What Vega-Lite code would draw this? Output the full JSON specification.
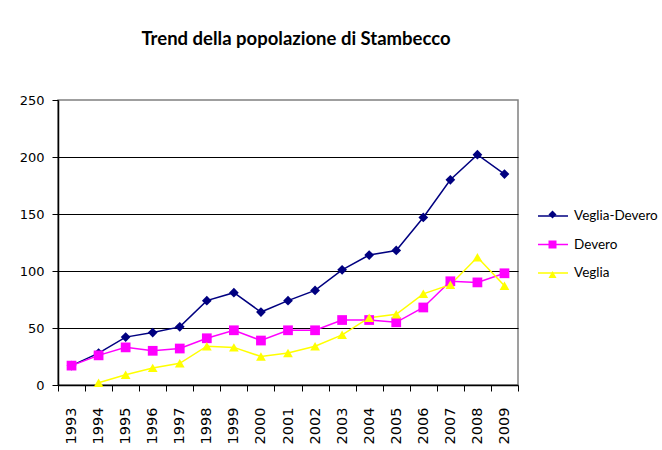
{
  "$schema": "https://vega.github.io/schema/vega-lite/v6.json",
  "autosize": "none",
  "width": 460,
  "height": 285,
  "padding": {"left": 58, "top": 100, "right": 144, "bottom": 65},
  "background": "white",
  "title": {
    "text": "Trend della popolazione di Stambecco",
    "font": "Lato",
    "fontSize": 18.5,
    "fontWeight": "bold",
    "color": "black",
    "anchor": "middle",
    "dx": 8,
    "offset": 31,
    "baseline": "alphabetic"
  },
  "config": {
    "view": {"stroke": "#808080", "strokeWidth": 1.5},
    "axis": {"labelColor": "black", "domainColor": "black", "tickColor": "black", "labelFont": "DejaVu Sans", "title": null}
  },
  "data": {
    "values": [
      {"year": "1993", "series": "Veglia-Devero", "value": 17},
      {"year": "1994", "series": "Veglia-Devero", "value": 28},
      {"year": "1995", "series": "Veglia-Devero", "value": 42},
      {"year": "1996", "series": "Veglia-Devero", "value": 46},
      {"year": "1997", "series": "Veglia-Devero", "value": 51},
      {"year": "1998", "series": "Veglia-Devero", "value": 74},
      {"year": "1999", "series": "Veglia-Devero", "value": 81},
      {"year": "2000", "series": "Veglia-Devero", "value": 64},
      {"year": "2001", "series": "Veglia-Devero", "value": 74},
      {"year": "2002", "series": "Veglia-Devero", "value": 83},
      {"year": "2003", "series": "Veglia-Devero", "value": 101},
      {"year": "2004", "series": "Veglia-Devero", "value": 114},
      {"year": "2005", "series": "Veglia-Devero", "value": 118},
      {"year": "2006", "series": "Veglia-Devero", "value": 147},
      {"year": "2007", "series": "Veglia-Devero", "value": 180},
      {"year": "2008", "series": "Veglia-Devero", "value": 202},
      {"year": "2009", "series": "Veglia-Devero", "value": 185},
      {"year": "1993", "series": "Devero", "value": 17},
      {"year": "1994", "series": "Devero", "value": 26},
      {"year": "1995", "series": "Devero", "value": 33},
      {"year": "1996", "series": "Devero", "value": 30},
      {"year": "1997", "series": "Devero", "value": 32},
      {"year": "1998", "series": "Devero", "value": 41},
      {"year": "1999", "series": "Devero", "value": 48},
      {"year": "2000", "series": "Devero", "value": 39},
      {"year": "2001", "series": "Devero", "value": 48},
      {"year": "2002", "series": "Devero", "value": 48},
      {"year": "2003", "series": "Devero", "value": 57},
      {"year": "2004", "series": "Devero", "value": 57},
      {"year": "2005", "series": "Devero", "value": 55},
      {"year": "2006", "series": "Devero", "value": 68},
      {"year": "2007", "series": "Devero", "value": 91},
      {"year": "2008", "series": "Devero", "value": 90},
      {"year": "2009", "series": "Devero", "value": 98},
      {"year": "1994", "series": "Veglia", "value": 2},
      {"year": "1995", "series": "Veglia", "value": 9},
      {"year": "1996", "series": "Veglia", "value": 15},
      {"year": "1997", "series": "Veglia", "value": 19},
      {"year": "1998", "series": "Veglia", "value": 34},
      {"year": "1999", "series": "Veglia", "value": 33},
      {"year": "2000", "series": "Veglia", "value": 25},
      {"year": "2001", "series": "Veglia", "value": 28},
      {"year": "2002", "series": "Veglia", "value": 34},
      {"year": "2003", "series": "Veglia", "value": 44},
      {"year": "2004", "series": "Veglia", "value": 59},
      {"year": "2005", "series": "Veglia", "value": 62},
      {"year": "2006", "series": "Veglia", "value": 80},
      {"year": "2007", "series": "Veglia", "value": 88},
      {"year": "2008", "series": "Veglia", "value": 112},
      {"year": "2009", "series": "Veglia", "value": 87}
    ]
  },
  "encoding": {
    "x": {
      "field": "year",
      "type": "ordinal",
      "scale": {"type": "band", "paddingInner": 0, "paddingOuter": 0},
      "axis": {
        "labelAngle": 270,
        "labelFontSize": 14.5,
        "labelPadding": 16,
        "tickBand": "extent",
        "tickSize": 6,
        "grid": false,
        "domainWidth": 1.5
      }
    },
    "y": {
      "field": "value",
      "type": "quantitative",
      "scale": {"domain": [0, 250], "nice": false},
      "axis": {
        "values": [0, 50, 100, 150, 200, 250],
        "labelFontSize": 13,
        "labelPadding": 8,
        "tickSize": 6,
        "grid": true,
        "gridColor": {"condition": {"test": "datum.value == 250 || datum.value == 0", "value": "transparent"}, "value": "black"},
        "gridWidth": 1.2,
        "gridOpacity": 1,
        "domainWidth": 1.5
      }
    },
    "color": {
      "field": "series",
      "type": "nominal",
      "scale": {"domain": ["Veglia-Devero", "Devero", "Veglia"], "range": ["#000080", "#FF00FF", "#FFFF00"]}
    }
  },
  "layer": [
    {
      "mark": {"type": "line", "strokeWidth": 1.5},
      "encoding": {
        "color": {
          "field": "series",
          "type": "nominal",
          "scale": {"domain": ["Veglia-Devero", "Devero", "Veglia"], "range": ["#000080", "#FF00FF", "#FFFF00"]},
          "legend": {
            "title": null,
            "orient": "none",
            "legendX": 479,
            "legendY": 100,
            "padding": 0,
            "symbolType": "stroke",
            "symbolSize": 900,
            "symbolStrokeWidth": 1.5,
            "labelFont": "Lato",
            "labelFontSize": 13.5,
            "labelColor": "black",
            "labelOffset": 5,
            "rowPadding": 5.5
          }
        }
      }
    },
    {
      "mark": {"type": "point", "filled": true, "opacity": 1, "size": 95},
      "encoding": {
        "shape": {
          "field": "series",
          "type": "nominal",
          "scale": {"domain": ["Veglia-Devero", "Devero", "Veglia"], "range": ["diamond", "square", "triangle-up"]},
          "legend": {
            "title": null,
            "orient": "none",
            "legendX": 487,
            "legendY": 107,
            "padding": 0,
            "symbolSize": 64,
            "labelFontSize": 15,
            "labelExpr": "''",
            "rowPadding": 14
          }
        },
        "color": {
          "field": "series",
          "type": "nominal",
          "scale": {"domain": ["Veglia-Devero", "Devero", "Veglia"], "range": ["#000080", "#FF00FF", "#FFFF00"]},
          "legend": {
            "title": null,
            "orient": "none",
            "legendX": 487,
            "legendY": 107,
            "padding": 0,
            "symbolSize": 64,
            "labelFontSize": 15,
            "labelExpr": "''",
            "rowPadding": 14
          }
        }
      }
    }
  ],
  "resolve": {"legend": {"color": "independent", "shape": "independent"}}
}
